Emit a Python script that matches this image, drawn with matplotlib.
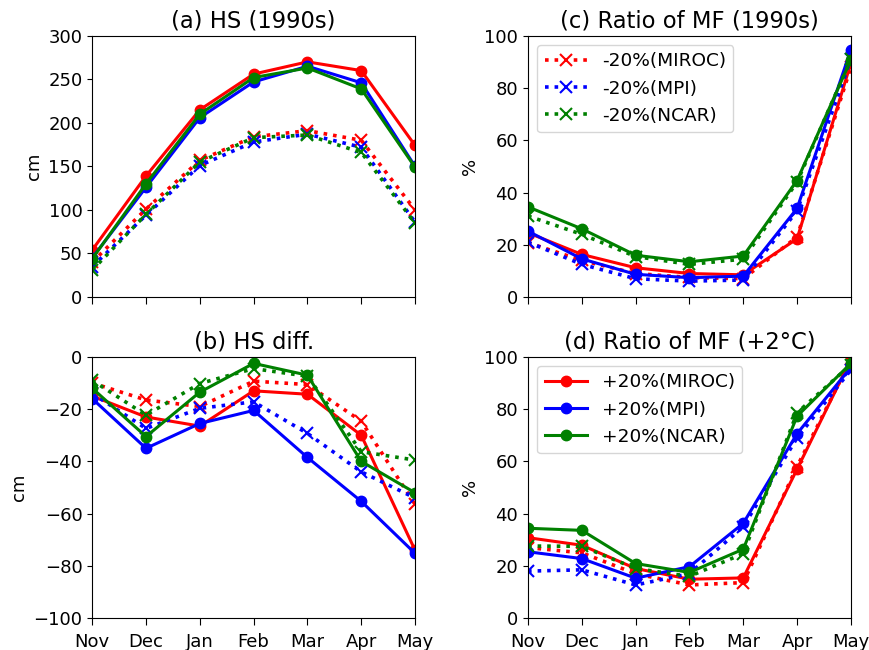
import matplotlib
matplotlib.use("Agg")
import matplotlib.pyplot as plt

meses = ["Nov", "Dec", "Jan", "Feb", "Mar", "Apr", "May"]
modelos = ["MIROC", "MPI", "NCAR"]
colores = ["red", "blue", "green"]

# (a) HS 1990s
hs_mas = {
    "MIROC": [54, 139, 215, 256, 270, 260, 174],
    "MPI": [45, 126, 206, 247, 265, 246, 150],
    "NCAR": [44, 130, 210, 252, 263, 239, 149],
}
hs_menos = {
    "MIROC": [40, 101, 157, 184, 191, 180, 100],
    "MPI": [35, 94, 151, 178, 187, 172, 86],
    "NCAR": [31, 95, 155, 183, 186, 166, 85],
}

# (b) HS diff.
dif_mas = {
    "MIROC": [-15, -23, -26.5, -13, -14.3, -30, -74],
    "MPI": [-16, -35, -25.5, -20.5, -38.5, -55.3, -75.2],
    "NCAR": [-12, -30.5, -13.5, -2.5, -7, -40, -52],
}
dif_menos = {
    "MIROC": [-10, -16.5, -19, -9.3, -10.6, -24.6, -56.5],
    "MPI": [-14, -27.4, -19.7, -17.2, -29.3, -44, -54],
    "NCAR": [-9, -22.3, -10.2, -4.5, -7.4, -36.3, -39.5],
}

# (c) Ratio of MF 1990s
mf90_mas = {
    "MIROC": [24.6, 16.3, 11.2, 9, 8.5, 22.3, 89.5],
    "MPI": [25.2, 14.6, 8.7, 7.4, 8, 33.9, 94.6],
    "NCAR": [34.5, 26.1, 16, 13.5, 15.7, 44.6, 90.8],
}
mf90_menos = {
    "MIROC": [20.8, 14, 9, 7.5, 7, 23, 88],
    "MPI": [21, 12.5, 7, 6.1, 6.5, 33, 91],
    "NCAR": [31, 24, 15.5, 12.5, 14.5, 44, 91],
}

# (d) Ratio of MF +2C
mf2_mas = {
    "MIROC": [30.8, 27.9, 19, 14.9, 15.4, 57, 99],
    "MPI": [25.4, 22.8, 15.3, 19.7, 36.3, 70.6, 96],
    "NCAR": [34.4, 33.6, 20.9, 17.5, 26.4, 77.3, 97.5],
}
mf2_menos = {
    "MIROC": [27, 25, 17, 12.7, 13.6, 58, 99],
    "MPI": [18, 18.5, 12.7, 17, 35, 69, 95],
    "NCAR": [27.6, 27.5, 19, 16, 24.7, 78.6, 97],
}

fig, axs = plt.subplots(2, 2, figsize=(8.7, 6.5), dpi=100)
plt.subplots_adjust(left=0.106, right=0.978, top=0.945, bottom=0.049,
                    wspace=0.35, hspace=0.229)

paneles = [
    (axs[0, 0], hs_mas, hs_menos, "(a) HS (1990s)", "cm", (0, 300), range(0, 301, 50), None),
    (axs[1, 0], dif_mas, dif_menos, "(b) HS diff.", "cm", (-100, 0), range(-100, 1, 20), None),
    (axs[0, 1], mf90_mas, mf90_menos, "(c) Ratio of MF (1990s)", "%", (0, 100), range(0, 101, 20), "menos"),
    (axs[1, 1], mf2_mas, mf2_menos, "(d) Ratio of MF (+2°C)", "%", (0, 100), range(0, 101, 20), "mas"),
]

x = list(range(len(meses)))
for ax, mas, menos, titulo, unidad, ylim, yticks, leyenda in paneles:
    handles = []
    for m, c in zip(modelos, colores):
        l1, = ax.plot(x, mas[m], "-", color=c, lw=2.2, marker="o", ms=7.5,
                      label="+20%(" + m + ")")
        l2, = ax.plot(x, menos[m], ":", color=c, lw=2.6, marker="x", ms=8,
                      mew=1.5, label="-20%(" + m + ")")
        handles.append(l1 if leyenda == "mas" else l2)
    ax.set_xlim(0, 6)
    ax.set_ylim(*ylim)
    ax.set_yticks(list(yticks))
    ax.set_xticks(x)
    ax.set_title(titulo, fontsize=16.3)
    ax.set_ylabel(unidad, fontsize=13)
    ax.tick_params(labelsize=13)
    ax.tick_params(axis="x", length=5, pad=6)
    if ax in axs[1]:
        ax.set_xticklabels(meses)
    else:
        ax.set_xticklabels([])
    if leyenda is not None:
        ax.legend(handles=handles, loc="upper left", fontsize=13.3,
                  handlelength=2.3)

plt.savefig("out.png", dpi=100)
